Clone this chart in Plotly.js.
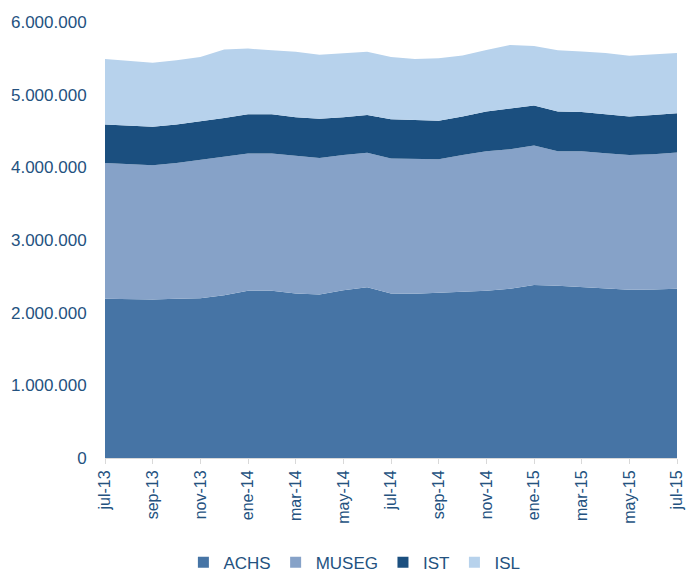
<!DOCTYPE html>
<html>
<head>
<meta charset="utf-8">
<script src="https://cdn.plot.ly/plotly-3.0.1.min.js"></script>
<style>
html,body{margin:0;padding:0;background:#fff;}
#chart{width:688px;height:572px;}
</style>
</head>
<body>
<div id="chart"></div>
<script>
const months = ["jul-13","ago-13","sep-13","oct-13","nov-13","dic-13","ene-14","feb-14","mar-14","abr-14","may-14","jun-14",
  "jul-14","ago-14","sep-14","oct-14","nov-14","dic-14","ene-15","feb-15","mar-15","abr-15","may-15","jun-15","jul-15"];
const tickLabels = ["jul-13","sep-13","nov-13","ene-14","mar-14","may-14","jul-14","sep-14","nov-14","ene-15","mar-15","may-15","jul-15"];

const achs  = [2190000,2180000,2180000,2190000,2200000,2240000,2300000,2300000,2265000,2250000,2310000,2350000,
  2265000,2260000,2270000,2280000,2300000,2330000,2380000,2370000,2350000,2330000,2315000,2320000,2330000];
const museg = [1870000,1870000,1850000,1870000,1900000,1900000,1890000,1890000,1895000,1880000,1860000,1850000,
  1855000,1850000,1840000,1890000,1920000,1920000,1920000,1850000,1870000,1865000,1855000,1860000,1875000];
const ist   = [530000,530000,530000,530000,530000,540000,540000,540000,530000,540000,520000,520000,
  540000,535000,530000,530000,550000,560000,550000,550000,540000,535000,530000,540000,540000];
const isl   = [900000,885000,880000,885000,890000,940000,905000,880000,900000,880000,880000,870000,
  860000,845000,860000,840000,845000,875000,820000,840000,835000,845000,835000,835000,830000];

const seriesNames = ["ACHS","MUSEG","IST","ISL"];
const seriesData = [achs, museg, ist, isl];
const colors = ["#4674A5","#86A2C8","#1B4F7F","#B7D2EC"];

const areaTraces = seriesNames.map((n,i)=>({
  type:"scatter", mode:"lines", name:n, x:months, y:seriesData[i],
  stackgroup:"one", line:{width:0, color:colors[i]}, fillcolor:colors[i],
  showlegend:false, hoverinfo:"x+y+name"
}));
const legendTraces = seriesNames.map((n,i)=>({
  type:"scatter", mode:"markers", name:n, x:[null], y:[null],
  marker:{symbol:"square", size:11, color:colors[i]}, showlegend:true, hoverinfo:"skip"
}));

const textColor = "#24527F";
const layout = {
  width:688, height:572,
  margin:{l:105, r:11, t:22, b:114, autoexpand:false},
  paper_bgcolor:"#fff", plot_bgcolor:"#fff",
  separators:",.",
  font:{family:"Liberation Sans, Arial, sans-serif", size:16, color:textColor},
  showlegend:true,
  legend:{orientation:"h", x:0.436, xanchor:"center", y:-0.24, yanchor:"middle",
    font:{size:17, color:textColor}, traceorder:"normal", itemwidth:30, tracegroupgap:0},
  xaxis:{type:"category", range:[0,24], tickmode:"array", tickvals:tickLabels, ticktext:tickLabels,
    tickangle:-90, ticks:"outside", ticklen:5, tickcolor:"#D9D9D9", showline:true, linecolor:"#D9D9D9",
    linewidth:1, showgrid:false, zeroline:false, tickfont:{size:16, color:textColor}, fixedrange:true,
    automargin:false},
  yaxis:{range:[0,6000000], tickvals:[0,1000000,2000000,3000000,4000000,5000000,6000000],
    tickformat:",d", showgrid:false, zeroline:false, showline:false, ticks:"outside", ticklen:14,
    tickcolor:"rgba(0,0,0,0)", tickfont:{size:17, color:textColor}, fixedrange:true, automargin:false}
};
Plotly.newPlot("chart", areaTraces.concat(legendTraces), layout, {displayModeBar:false, staticPlot:true});
</script>
</body>
</html>
